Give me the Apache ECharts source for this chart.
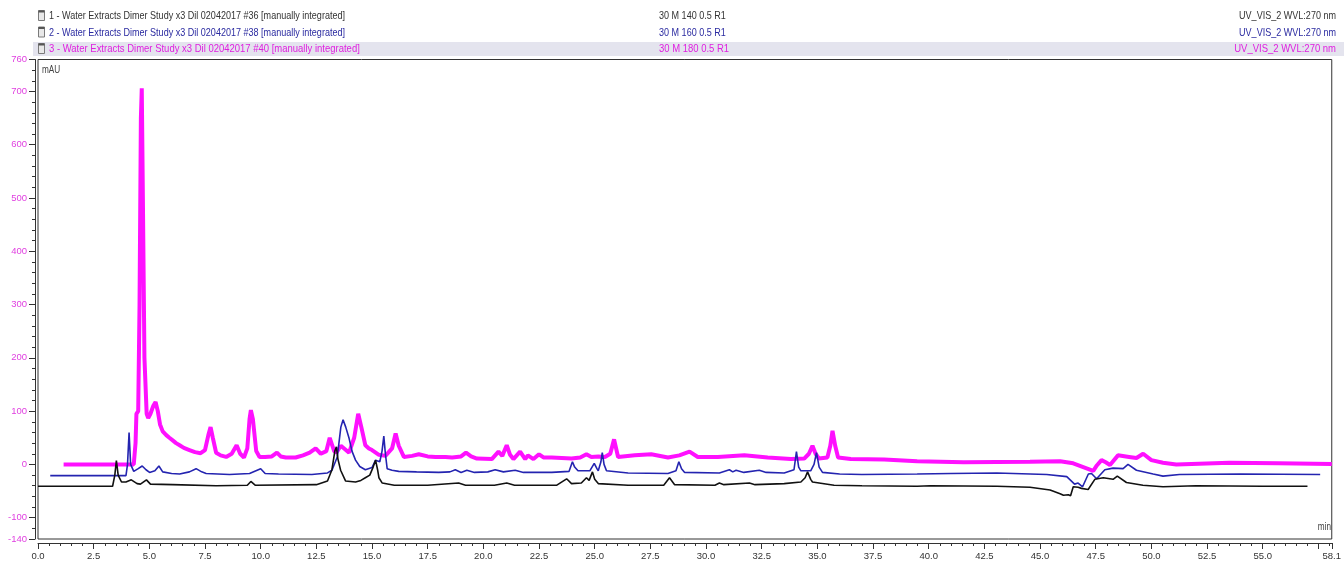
<!DOCTYPE html>
<html>
<head>
<meta charset="utf-8">
<script src="https://cdn.jsdelivr.net/npm/echarts@6/dist/echarts.min.js"></script>
<style>
  html, body { margin: 0; padding: 0; background: #fff; }
  #chart { width: 1344px; height: 562px; }
</style>
</head>
<body>
<div id="chart"></div>
<script>
// Chromatogram overlay: three injections, UV_VIS_2 at 270 nm (time in min, signal in mAU)

const traceNames = [
  '1 - Water Extracts Dimer Study x3 Dil 02042017 #36 [manually integrated]',
  '2 - Water Extracts Dimer Study x3 Dil 02042017 #38 [manually integrated]',
  '3 - Water Extracts Dimer Study x3 Dil 02042017 #40 [manually integrated]'
];
const methodNames = ['30 M 140 0.5 R1', '30 M 160 0.5 R1', '30 M 180 0.5 R1'];
const channelNames = ['UV_VIS_2 WVL:270 nm', 'UV_VIS_2 WVL:270 nm', 'UV_VIS_2 WVL:270 nm'];
const traceColors = ['#111111', '#2424b0', '#ff10ff'];
const textColors = ['#333333', '#2a2aa0', '#e020e0'];

const yLabelValues = [-140, -100, 0, 100, 200, 300, 400, 500, 600, 700, 760];
const xLabelValues = [0, 2.5, 5, 7.5, 10, 12.5, 15, 17.5, 20, 22.5, 25, 27.5, 30, 32.5, 35, 37.5, 40, 42.5, 45, 47.5, 50, 52.5, 55, 58.1];
const xMajorTicks = [0, 2.5, 5, 7.5, 10, 12.5, 15, 17.5, 20, 22.5, 25, 27.5, 30, 32.5, 35, 37.5, 40, 42.5, 45, 47.5, 50, 52.5, 55, 57.5, 58.1];

// trace 1 (#36)
const trace1 = [
  [0, -41], [3.35, -41], [3.45, -20], [3.52, 7], [3.6, -20], [3.75, -33], [3.95, -33], [4.19, -29],
  [4.45, -36], [4.6, -37], [4.87, -29], [5.05, -37], [6.05, -38], [8.0, -40], [9.4, -39], [9.56, -32],
  [9.75, -39], [12.5, -38], [13.0, -31], [13.2, -10], [13.33, 25], [13.4, 33], [13.47, 10], [13.59, -11],
  [13.81, -31], [14.26, -33], [14.5, -30], [14.7, -25], [14.9, -20], [15.05, -5], [15.16, 8], [15.25, -10],
  [15.31, -25], [15.46, -35], [16.0, -39], [17.5, -39], [18.89, -35], [19.2, -39], [20.5, -39], [21.05, -35],
  [21.4, -39], [23.3, -39], [23.74, -27], [23.96, -36], [24.4, -35], [24.63, -25], [24.75, -30], [24.9, -14],
  [25.0, -28], [25.16, -36], [26.5, -39], [28.1, -39], [28.36, -25], [28.59, -38], [30.4, -39], [30.6, -35],
  [30.8, -38], [31.95, -35], [32.2, -38], [33.51, -36], [34.26, -33], [34.45, -25], [34.56, -14], [34.7, -28],
  [34.78, -33], [35.75, -39], [37.0, -40], [39.48, -41], [40.08, -40], [43.06, -41], [44.55, -43], [45.45, -48],
  [45.9, -55], [46.05, -58], [46.27, -57], [46.37, -59], [46.49, -42], [46.71, -43], [46.86, -45], [47.16, -47],
  [47.46, -28], [47.84, -25], [48.28, -28], [48.47, -22], [48.88, -34], [49.62, -39], [50.52, -42], [52.0, -40],
  [55.0, -41], [57.01, -41]
];

// trace 2 (#38)
const trace2 = [
  [0.55, -21], [3.95, -21], [4.02, 0], [4.09, 60], [4.16, 0], [4.3, -13], [4.5, -8], [4.68, -3],
  [4.85, -10], [5.01, -15], [5.25, -12], [5.43, -3], [5.6, -14], [6.0, -17], [6.36, -18], [6.8, -14],
  [7.1, -8], [7.35, -14], [7.55, -17], [8.6, -19], [9.5, -17], [10.0, -8], [10.2, -17], [10.8, -18],
  [12.3, -19], [13.0, -16], [13.2, -11], [13.44, 14], [13.6, 70], [13.7, 84], [13.82, 70], [13.97, 49],
  [14.1, 25], [14.26, 8], [14.45, -4], [14.7, -10], [15.0, -6], [15.16, 8], [15.22, 11], [15.35, 5],
  [15.45, 25], [15.53, 53], [15.6, 20], [15.68, -8], [15.9, -11], [16.2, -13], [17.0, -14], [18.0, -15],
  [18.5, -14], [18.74, -10], [19.0, -15], [19.26, -11], [19.6, -15], [20.2, -14], [20.53, -10], [20.9, -14],
  [21.43, -11], [21.8, -15], [23.07, -15], [23.85, -13], [24.0, 5], [24.1, -5], [24.25, -12], [24.78, -12],
  [24.98, 2], [25.1, -8], [25.16, -12], [25.28, 5], [25.34, 22], [25.42, 0], [25.53, -12], [26.5, -16],
  [28.29, -17], [28.65, -12], [28.78, 5], [28.9, -8], [29.04, -15], [30.6, -16], [31.05, -10], [31.2, -14],
  [31.35, -11], [31.7, -15], [32.39, -11], [32.7, -15], [33.51, -16], [33.95, -10], [34.06, 24], [34.16, -5],
  [34.26, -12], [34.7, -12], [34.85, 0], [34.96, 22], [35.08, -5], [35.23, -15], [36.0, -18], [37.0, -19],
  [39.48, -18], [41.0, -17], [43.06, -16], [45.3, -19], [46.2, -23], [46.55, -37], [46.71, -35], [46.91, -42],
  [47.17, -18], [47.31, -17], [47.54, -27], [47.91, -10], [48.28, -7], [48.73, -8], [48.95, 0], [49.33, -11],
  [50.08, -18], [50.52, -22], [51.26, -19], [54.0, -18], [57.58, -19]
];

// trace 3 (#40)
const trace3 = [
  [1.15, 0], [4.3, 0], [4.38, 40], [4.42, 95], [4.5, 100], [4.56, 300], [4.62, 650], [4.66, 706],
  [4.71, 500], [4.78, 200], [4.88, 95], [4.95, 87], [5.05, 95], [5.18, 110], [5.28, 117], [5.38, 100],
  [5.48, 75], [5.6, 62], [5.76, 55], [5.9, 50], [6.05, 45], [6.2, 40], [6.36, 36], [6.55, 31],
  [6.8, 27], [7.05, 23], [7.3, 21], [7.5, 27], [7.65, 55], [7.75, 70], [7.85, 50], [8.0, 22],
  [8.2, 17], [8.45, 14], [8.7, 20], [8.92, 36], [9.08, 20], [9.25, 13], [9.4, 30], [9.5, 85],
  [9.56, 102], [9.65, 85], [9.8, 25], [9.95, 14], [10.2, 14], [10.5, 15], [10.73, 22], [10.9, 15],
  [11.13, 13], [11.57, 13], [11.9, 17], [12.2, 22], [12.47, 30], [12.7, 20], [12.95, 25], [13.1, 50],
  [13.15, 52], [13.3, 25], [13.4, 22], [13.6, 35], [13.8, 28], [13.97, 22], [14.2, 50], [14.38, 95],
  [14.52, 70], [14.7, 36], [14.86, 30], [15.0, 27], [15.31, 18], [15.6, 16], [15.9, 30], [16.06, 58],
  [16.2, 35], [16.43, 14], [16.8, 16], [17.1, 19], [17.5, 15], [17.85, 14], [18.3, 14], [18.6, 13],
  [19.0, 15], [19.22, 22], [19.45, 15], [19.71, 11], [20.38, 10], [20.68, 24], [20.85, 16], [21.05, 36],
  [21.2, 18], [21.35, 10], [21.65, 24], [21.88, 10], [22.0, 17], [22.25, 10], [22.5, 19], [22.7, 13],
  [23.07, 13], [23.96, 11], [24.35, 13], [24.63, 19], [24.85, 14], [25.16, 15], [25.46, 14], [25.7, 20],
  [25.87, 47], [26.05, 14], [26.8, 17], [27.54, 19], [28.29, 13], [28.8, 17], [29.26, 24], [29.63, 14],
  [30.53, 14], [31.72, 17], [32.77, 13], [33.81, 10], [34.41, 11], [34.62, 20], [34.78, 35], [34.92, 20],
  [35.07, 11], [35.45, 13], [35.58, 35], [35.68, 63], [35.8, 35], [35.93, 13], [36.5, 10], [38.0, 9],
  [39.48, 6], [41.57, 4], [44.55, 5], [45.9, 6], [46.49, 2], [46.94, -5], [47.39, -12], [47.55, -2],
  [47.76, 8], [47.95, 4], [48.14, -1], [48.5, 17], [49.0, 14], [49.33, 12], [49.63, 20], [50.0, 8],
  [50.52, 3], [51.12, 0], [53.5, 3], [55.7, 2], [58.1, 1]
];

const FONT = '"Liberation Sans", Arial, sans-serif';
const chart = echarts.init(document.getElementById('chart'), null, { renderer: 'canvas' });

// condensed header lettering: scale regular glyphs horizontally
const measureCtx = document.createElement('canvas').getContext('2d');
function textWidth(str, size, weight) {
  measureCtx.font = (weight || 'normal') + ' ' + size + 'px ' + FONT;
  return measureCtx.measureText(str).width;
}
const headerScale = 296 / textWidth(traceNames[0], 11);

const rowY = [16, 32.5, 49];
const headerGraphics = [
  { type: 'rect', shape: { x: 33, y: 42, width: 1311, height: 14 }, style: { fill: '#e4e4ee' }, silent: true }
];
rowY.forEach((y, i) => {
  const rowScale = i === 2 ? headerScale * 1.05 : headerScale;
  headerGraphics.push(
    { type: 'rect', shape: { x: 38.5, y: y - 5.5, width: 6, height: 10 }, style: { fill: '#e8e8e8', stroke: '#7a7a7a', lineWidth: 1 }, silent: true },
    { type: 'rect', shape: { x: 38.5, y: y - 5.5, width: 6, height: 2 }, style: { fill: '#555' }, silent: true },
    { type: 'text', x: 49, y: y, scaleX: rowScale,
      style: { text: traceNames[i], fill: textColors[i], font: '11px ' + FONT, textAlign: 'left', textVerticalAlign: 'middle' } },
    { type: 'text', x: 659, y: y, scaleX: rowScale,
      style: { text: methodNames[i], fill: textColors[i], font: '11px ' + FONT, textAlign: 'left', textVerticalAlign: 'middle' } },
    { type: 'text', x: 1336, y: y, scaleX: rowScale,
      style: { text: channelNames[i], fill: textColors[i], font: '11px ' + FONT, textAlign: 'right', textVerticalAlign: 'middle' } }
  );
});
headerGraphics.push(
  { type: 'text', x: 42, y: 70, scaleX: headerScale,
    style: { text: 'mAU', fill: '#444', font: '10px ' + FONT, textAlign: 'left', textVerticalAlign: 'middle' } },
  { type: 'text', x: 1331, y: 527, scaleX: headerScale, z: 100,
    style: { text: 'min', fill: '#444', font: '10px ' + FONT, textAlign: 'right', textVerticalAlign: 'middle' } }
);

const isYLabel = v => yLabelValues.some(t => Math.abs(t - v) < 1e-6);
const isXLabel = v => xLabelValues.some(t => Math.abs(t - v) < 1e-6);

const axisLineStyle = { color: '#333', width: 1 };

const option = {
  animation: false,
  backgroundColor: '#fff',
  grid: {
    left: 38, top: 59.5, width: 1298, height: 479.5,
    show: true, borderColor: '#333', borderWidth: 1, backgroundColor: 'transparent'
  },
  xAxis: [
    {
      type: 'value', min: 0, max: 58.1, interval: 0.5, offset: 4, position: 'bottom',
      axisLine: { show: true, onZero: false, lineStyle: axisLineStyle },
      axisTick: { show: true, length: 3, lineStyle: axisLineStyle },
      axisLabel: {
        show: true, margin: 8, color: '#333', fontSize: 9.5, fontFamily: FONT,
        showMinLabel: true, showMaxLabel: true,
        formatter: v => (isXLabel(v) ? v.toFixed(1) : '')
      },
      splitLine: { show: false }
    },
    {
      type: 'value', min: 0, max: 58.1, offset: 4, position: 'bottom',
      axisLine: { show: false, onZero: false },
      axisTick: { show: true, length: 6, customValues: xMajorTicks, lineStyle: axisLineStyle },
      axisLabel: { show: false },
      splitLine: { show: false }
    }
  ],
  yAxis: [
    {
      type: 'value', min: -140, max: 760, interval: 20, offset: 3, position: 'left',
      axisLine: { show: true, onZero: false, lineStyle: axisLineStyle },
      axisTick: { show: true, length: 3, lineStyle: axisLineStyle },
      axisLabel: {
        show: true, margin: 8, color: '#e040e0', fontSize: 9.5, fontFamily: FONT,
        showMinLabel: true, showMaxLabel: true,
        formatter: v => (isYLabel(v) ? String(v) : '')
      },
      splitLine: { show: false }
    },
    {
      type: 'value', min: -140, max: 760, offset: 3, position: 'left',
      axisLine: { show: false, onZero: false },
      axisTick: { show: true, length: 6, customValues: yLabelValues, lineStyle: axisLineStyle },
      axisLabel: { show: false },
      splitLine: { show: false }
    }
  ],
  graphic: headerGraphics,
  series: [
    {
      name: traceNames[2], type: 'line', data: trace3, showSymbol: false, smooth: false,
      xAxisIndex: 0, yAxisIndex: 0, z: 2,
      lineStyle: { color: traceColors[2], width: 4 }, itemStyle: { color: traceColors[2] }
    },
    {
      name: traceNames[1], type: 'line', data: trace2, showSymbol: false, smooth: false,
      xAxisIndex: 0, yAxisIndex: 0, z: 3,
      lineStyle: { color: traceColors[1], width: 1.6 }, itemStyle: { color: traceColors[1] }
    },
    {
      name: traceNames[0], type: 'line', data: trace1, showSymbol: false, smooth: false,
      xAxisIndex: 0, yAxisIndex: 0, z: 4,
      lineStyle: { color: traceColors[0], width: 1.6 }, itemStyle: { color: traceColors[0] }
    }
  ]
};

chart.setOption(option);
</script>
</body>
</html>
